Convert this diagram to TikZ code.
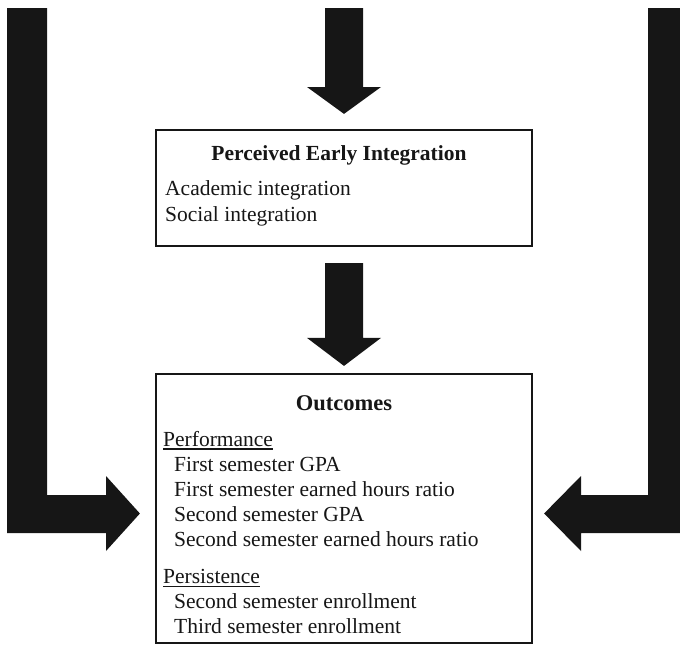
\documentclass[tikz,border=0pt]{standalone}
\usepackage{fontspec}
\setmainfont{Liberation Serif}
\usetikzlibrary{calc}
\definecolor{ink}{RGB}{22,22,22}
\begin{document}
\begin{tikzpicture}[x=1pt,y=-1pt,
  box/.style={draw=ink,line width=2.2pt,fill=white,inner sep=0pt},
  txt/.style={anchor=base west,inner sep=0pt,text=ink,font=\fontsize{21.5}{26}\selectfont},
  ttl/.style={anchor=base,inner sep=0pt,text=ink,font=\fontsize{21.5}{26}\selectfont\bfseries},
  bigarrow/.style={fill=ink,draw=none}]
\useasboundingbox (0,0) rectangle (680,646);
\clip (0,0) rectangle (680,646);
% boxes
\node[box,minimum width=376pt,minimum height=116pt] (pei) at (344,188) {};
\node[box,minimum width=376pt,minimum height=269pt] (out) at (344,508.5) {};
% box 1 text
\node[ttl] (peit) at (339,160) {Perceived Early Integration};
\node[txt] (aca) at (165,195.5) {Academic integration};
\node[txt] (soc) at (165,221.5) {Social integration};
% box 2 text
\node[ttl,font=\fontsize{22.5}{26}\selectfont\bfseries] (outt) at (344,410) {Outcomes};
\node[txt] (perf) at (163,446) {Performance};
\draw[ink,line width=1.2pt] ([yshift=-3pt]perf.base west) -- ([yshift=-3pt]perf.base east);
\node[txt] (o1) at (174,471) {First semester GPA};
\node[txt] (o2) at (174,496) {First semester earned hours ratio};
\node[txt] (o3) at (174,521) {Second semester GPA};
\node[txt] (o4) at (174,546) {Second semester earned hours ratio};
\node[txt] (pers) at (163,583) {Persistence};
\draw[ink,line width=1.2pt] ([yshift=-3.5pt]pers.base west) -- ([yshift=-3.5pt]pers.base east);
\node[txt] (o5) at (174,608) {Second semester enrollment};
\node[txt] (o6) at (174,633) {Third semester enrollment};
% top arrow into box 1
\coordinate (topsrc) at (344,8);
\fill[bigarrow] ($(topsrc)+(-19,0)$) -- ($(topsrc)+(19,0)$) -- (363,87) -- (381,87)
  -- ($(pei.north)+(0,-15)$) -- (307,87) -- (325,87) -- cycle;
% middle arrow from box 1 to box 2
\fill[bigarrow] ($(pei.south)+(-19,16)$) -- ($(pei.south)+(19,16)$) -- ($(out.north)+(19,-35)$)
  -- ($(out.north)+(37,-35)$) -- ($(out.north)+(0,-7)$) -- ($(out.north)+(-37,-35)$)
  -- ($(out.north)+(-19,-35)$) -- cycle;
% left L-shaped arrow
\coordinate (lsrc) at (7,8);
\fill[bigarrow] (lsrc) -- (47,8) -- (47,495) -- (106,495) -- (106,476)
  -- ($(out.west)+(-15,5)$) -- (106,551) -- (106,533) -- (7,533) -- cycle;
% right L-shaped arrow
\coordinate (rsrc) at (688,8);
\fill[bigarrow] (rsrc) -- (648,8) -- (648,495) -- (581,495) -- (581,476)
  -- ($(out.east)+(11,5)$) -- (581,551) -- (581,533) -- (688,533) -- cycle;
\end{tikzpicture}
\end{document}
